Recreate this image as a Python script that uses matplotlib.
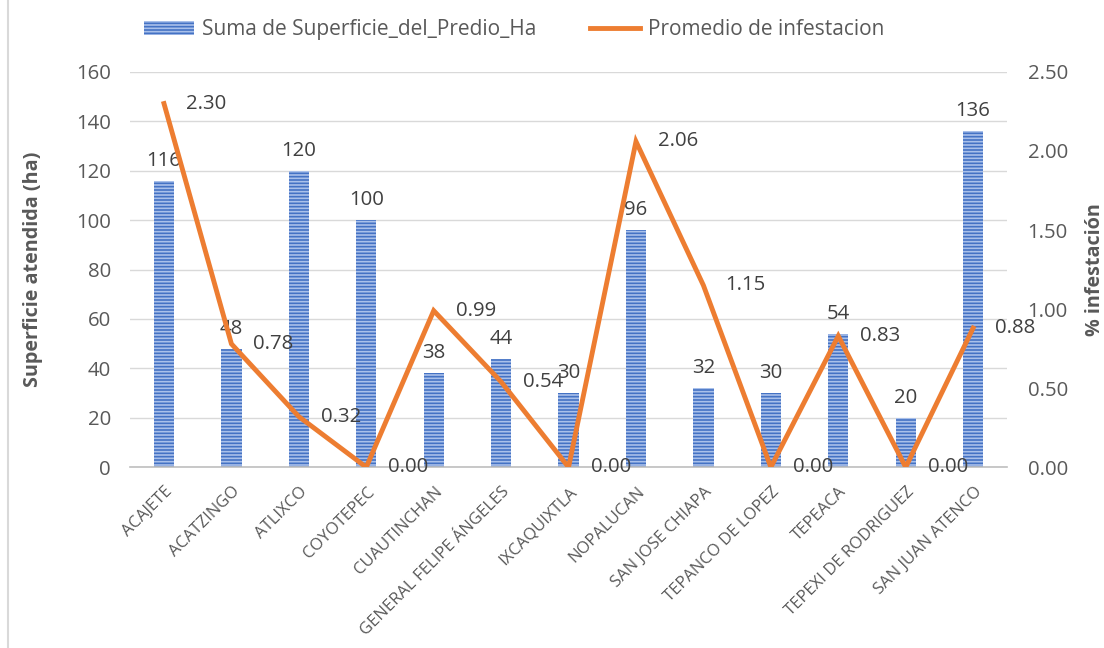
import matplotlib
matplotlib.use("Agg")
import matplotlib.pyplot as plt
import matplotlib.transforms as mtrans
from matplotlib.lines import Line2D
from matplotlib.patches import Patch

categories = ["ACAJETE", "ACATZINGO", "ATLIXCO", "COYOTEPEC", "CUAUTINCHAN",
              "GENERAL FELIPE ÁNGELES", "IXCAQUIXTLA", "NOPALUCAN", "SAN JOSE CHIAPA",
              "TEPANCO DE LOPEZ", "TEPEACA", "TEPEXI DE RODRIGUEZ", "SAN JUAN ATENCO"]
superficie = [116, 48, 120, 100, 38, 44, 30, 96, 32, 30, 54, 20, 136]
infestacion = [2.30, 0.78, 0.32, 0.00, 0.99, 0.54, 0.00, 2.06, 1.15, 0.00, 0.83, 0.00, 0.88]

plt.rcParams['font.family'] = ['Open Sans', 'DejaVu Sans']
plt.rcParams['hatch.linewidth'] = 1.2
plt.rcParams['hatch.color'] = '#a9c0ea'
TXT = '#595959'
LBL = '#404040'
BLUE = '#4472C4'
ORANGE = '#ED7D31'
FS = 14.7

fig = plt.figure(figsize=(11.04, 6.48), dpi=100)
ax = fig.add_axes([0.118, 0.279, 0.794, 0.610])
ax2 = ax.twinx()

x = list(range(len(categories)))
ax.bar(x, superficie, width=0.3, color=BLUE, edgecolor='#a9c0ea',
       linewidth=0, hatch='-----', zorder=2)
ax.set_xlim(-0.5, len(categories) - 0.5)
ax.set_ylim(0, 160)
ax.set_yticks(range(0, 161, 20))
ax.grid(axis='y', color='#d9d9d9', linewidth=1, zorder=0)
ax.set_axisbelow(True)
for s in ['top', 'right', 'left']:
    ax.spines[s].set_visible(False)
    ax2.spines[s].set_visible(False)
ax.spines['bottom'].set_color('#bfbfbf')
ax.spines['bottom'].set_linewidth(1.2)
ax2.spines['bottom'].set_visible(False)
ax.tick_params(axis='y', length=0, labelsize=FS, labelcolor=TXT, pad=14)
ax.tick_params(axis='x', length=0, labelsize=12, labelcolor=TXT, pad=16)
ax.set_xticks(x)
ax.set_xticklabels(categories, rotation=45, ha='right', va='center', rotation_mode='anchor')
shift = mtrans.ScaledTranslation(6 / 100, 0, fig.dpi_scale_trans)
for lab in ax.get_xticklabels():
    lab.set_transform(lab.get_transform() + shift)

for xi, v in zip(x, superficie):
    ax.annotate(f"{v}", (xi, v), xytext=(0, 10), textcoords='offset pixels',
                ha='center', va='bottom', fontsize=FS, color=LBL, zorder=5)

ax2.plot(x, infestacion, color=ORANGE, linewidth=3.5, solid_joinstyle='miter', zorder=4)
ax2.set_ylim(0, 2.5)
ticks2 = [0, 0.5, 1.0, 1.5, 2.0, 2.5]
ax2.set_yticks(ticks2)
ax2.set_yticklabels([f"{t:.2f}" for t in ticks2])
ax2.tick_params(axis='y', length=0, labelsize=FS, labelcolor=TXT, pad=15)
for xi, v in zip(x, infestacion):
    ax2.annotate(f"{v:.2f}", (xi, v), xytext=(22, 0), textcoords='offset pixels',
                 ha='left', va='center', fontsize=FS, color=LBL, zorder=5)

ax.set_ylabel("Superficie atendida (ha)", fontsize=14.2, fontweight='bold', color=TXT, labelpad=24)
ax2.set_ylabel("% infestación", fontsize=14.2, fontweight='bold', color=TXT, labelpad=12)

handles = [Patch(facecolor=BLUE, edgecolor='#a9c0ea', linewidth=0, hatch='-----'),
           Line2D([0], [0], color=ORANGE, linewidth=3.5)]
fig.legend(handles, ["Suma de Superficie_del_Predio_Ha", "Promedio de infestacion"],
           loc='center', bbox_to_anchor=(0.4656, 0.954), ncol=2, frameon=False,
           fontsize=15, labelcolor=TXT, handlelength=2.4, handleheight=0.63,
           columnspacing=2.6, handletextpad=0.38)

fig.add_artist(Line2D([0.0072, 0.0072], [0.0, 1.0], color='#d9d9d9', linewidth=1.5,
                      transform=fig.transFigure))

fig.savefig("out.png", dpi=100)
